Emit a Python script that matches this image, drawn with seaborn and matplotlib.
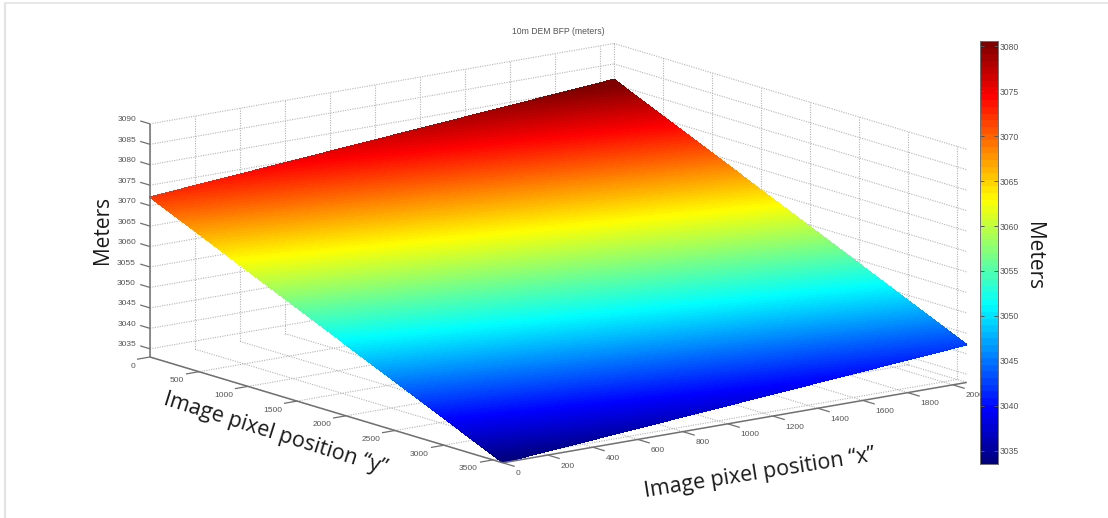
import numpy as np
import matplotlib
matplotlib.use("Agg")
import matplotlib.pyplot as plt
from matplotlib.colors import LinearSegmentedColormap
import seaborn as sns

# ---- data ----
title_text = "10m DEM BFP (meters)"
x_ticks = [0, 200, 400, 600, 800, 1000, 1200, 1400, 1600, 1800, 2000]
y_ticks = [0, 500, 1000, 1500, 2000, 2500, 3000, 3500]
z_ticks = [3035, 3040, 3045, 3050, 3055, 3060, 3065, 3070, 3075, 3080, 3085, 3090]
cbar_ticks = [3035, 3040, 3045, 3050, 3055, 3060, 3065, 3070, 3075, 3080]
x_limits = [0, 2062]
y_limits = [0, 3600]
z_limits = [3033, 3090]
color_limits = [3033.5, 3080.6]
# surface height at the four corners: rows are y limits, columns are x limits
surface_z = [[3072.1, 3081.2],
             [3033.1, 3042.2]]
# MATLAB jet anchors
jet_stops = [0, 1 / 8, 3 / 8, 5 / 8, 7 / 8, 1]
jet_colors = [(0, 0, 0.5), (0, 0, 1), (0, 1, 1), (1, 1, 0), (1, 0, 0), (0.5, 0, 0)]

sns.set_theme(style="white")
jet_ramp = LinearSegmentedColormap.from_list("matlab_jet", list(zip(jet_stops, jet_colors)), N=256)
jet_surface = jet_ramp.resampled(128)
jet_bar = jet_ramp.resampled(64)

W, H = 1108, 518
fig = plt.figure(figsize=(W / 100, H / 100), dpi=100, facecolor="white")
ax = fig.add_axes([0, 0, 1, 1])
ax.set_xlim(0, W)
ax.set_ylim(H, 0)
ax.axis("off")

# orthographic view of the MATLAB box
ORIGIN = np.array([150.0, 357.0])
EX = np.array([45.0 / 200, -7.8 / 200])
EY = np.array([49.0 / 500, 14.7 / 500])
EZ = np.array([0.0, -4.09])


def project(x, y, z):
    x, y, z = np.asarray(x, float), np.asarray(y, float), np.asarray(z, float)
    return (ORIGIN[0] + x * EX[0] + y * EY[0] + (z - z_limits[0]) * EZ[0],
            ORIGIN[1] + x * EX[1] + y * EY[1] + (z - z_limits[0]) * EZ[1])


def line3(xs, ys, zs, **kw):
    px, py = project(xs, ys, zs)
    ax.plot(px, py, solid_capstyle="butt", **kw)


xmin, xmax = x_limits
ymin, ymax = y_limits
zmin, zmax = z_limits

grid = dict(color="#b4b4b4", lw=0.8, ls=(0, (1, 1.2)), zorder=1)
for z in z_ticks:
    line3([xmin, xmax], [ymin, ymin], [z, z], **grid)
    line3([xmax, xmax], [ymin, ymax], [z, z], **grid)
for x in x_ticks + [xmax]:
    line3([x, x], [ymin, ymin], [zmin, zmax], **grid)
    line3([x, x], [ymin, ymax], [zmin, zmin], **grid)
for y in y_ticks[1:]:
    line3([xmax, xmax], [y, y], [zmin, zmax], **grid)
    line3([xmin, xmax], [y, y], [zmin, zmin], **grid)

# surface
XX, YY = np.meshgrid(x_limits, y_limits)
ZZ = np.array(surface_z)
PX, PY = project(XX, YY, ZZ)
surface_levels = np.linspace(color_limits[0], color_limits[1], 129)
surf = ax.contourf(PX, PY, ZZ, levels=surface_levels, cmap=jet_surface, extend="both", zorder=3)
surf.set_edgecolor("face")
surf.set_linewidth(0.3)

# axes and ticks
axis_style = dict(color="#707070", lw=1.1, zorder=4)
tick_style = dict(color="#707070", lw=0.9, zorder=4)
line3([xmin, xmin], [ymin, ymin], [zmin, zmax], **axis_style)
line3([xmin, xmin], [ymin, ymax], [zmin, zmin], **axis_style)
line3([xmin, xmax], [ymax, ymax], [zmin, zmin], **axis_style)

label_style = dict(fontsize=6, color="#555555", family="Liberation Sans", zorder=5)
for z in z_ticks:
    line3([xmin, xmin], [ymin, -100], [z, z], **tick_style)
    px, py = project(xmin, ymin, z)
    ax.text(px - 14, py - 4, str(z), ha="right", va="center", **label_style)
for y in y_ticks:
    line3([xmin, -58], [y, y], [zmin, zmin], **tick_style)
    px, py = project(xmin, y, zmin)
    ax.text(px - 15, py + 9, str(y), ha="right", va="center", **label_style)
for x in x_ticks:
    line3([x, x], [ymax, ymax + 122], [zmin, zmin], **tick_style)
    px, py = project(x, ymax, zmin)
    ax.text(px + 13, py + 11, str(x), ha="left", va="center", **label_style)

# texts
ax.text(558, 32, title_text, ha="center", va="center", fontsize=6.2,
        color="#555555", family="Liberation Sans")
big = dict(family="Open Sans", color="#1a1a1a", ha="center", va="center",
           rotation_mode="anchor")
ax.text(102, 230, "Meters", rotation=90, fontsize=15, **big)
ax.text(1034, 256, "Meters", rotation=-90, fontsize=15, **big)
ax.text(275, 434, "Image pixel position \u201cy\u201d", rotation=-17.5, fontsize=15.5, **big)
ax.text(760, 473, "Image pixel position \u201cx\u201d", rotation=9, fontsize=15.5, **big)

# faint frame of the slide
ax.plot([5, 5], [518, 2.5], color="#e4e4e4", lw=1.6, zorder=0)
ax.plot([5, 1108], [2.5, 2.5], color="#e4e4e4", lw=1.2, zorder=0)

# colour bar
left, right, top, bottom = 980, 998, 41, 464
cax = fig.add_axes([left / W, 1 - bottom / H, (right - left) / W, (bottom - top) / H],
                   zorder=6, facecolor="white")
bar_levels = np.linspace(color_limits[0], color_limits[1], 65)
strip = np.array([(bar_levels[:-1] + bar_levels[1:]) / 2]).T[::-1]
sns.heatmap(strip, ax=cax, cmap=jet_bar, vmin=color_limits[0], vmax=color_limits[1],
            cbar=False, xticklabels=False, yticklabels=False)
scale = cax.twinx()
scale.set_ylim(color_limits)
scale.set_yticks(cbar_ticks)
scale.set_yticklabels([str(v) for v in cbar_ticks], fontsize=6.2, color="#555555",
                      family="Liberation Sans")
scale.tick_params(axis="y", direction="in", length=3, width=0.7, color="#555555",
                  left=True, right=True, pad=1.5)
for s in scale.spines.values():
    s.set_visible(True)
    s.set_color("#707070")
    s.set_linewidth(0.7)

fig.savefig("out.png", dpi=100)
